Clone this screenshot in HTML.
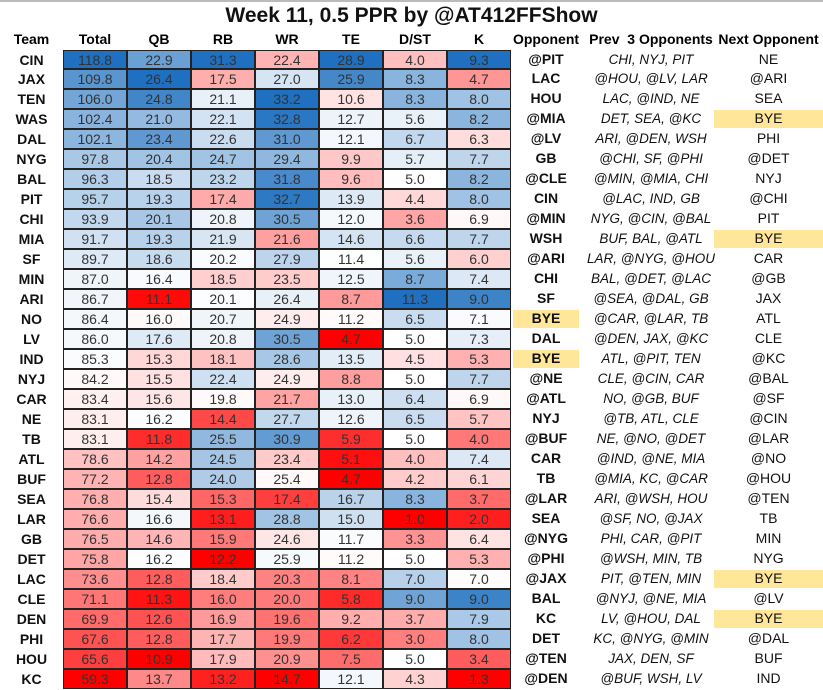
<!DOCTYPE html>
<html><head><meta charset="utf-8"><style>
body{margin:0;width:823px;height:689px;background:#fff;overflow:hidden;position:relative;font-family:"Liberation Sans",Arial,sans-serif;}
.t{position:absolute;text-align:center;white-space:nowrap;}
#topline{position:absolute;left:0;top:0;width:823px;height:2px;background:#bbb;}
</style></head><body>
<div id="topline"></div>
<div class="t" style="left:0;width:823px;top:4px;font-size:21px;font-weight:bold;color:#111;">Week 11, 0.5 PPR by @AT412FFShow</div>
<div id="root"></div>
<script>
const D=`CIN 118.8 22.9 31.3 22.4 28.9 4.0 9.3|@PIT|CHI, NYJ, PIT|NE
JAX 109.8 26.4 17.5 27.0 25.9 8.3 4.7|LAC|@HOU, @LV, LAR|@ARI
TEN 106.0 24.8 21.1 33.2 10.6 8.3 8.0|HOU|LAC, @IND, NE|SEA
WAS 102.4 21.0 22.1 32.8 12.7 5.6 8.2|@MIA|DET, SEA, @KC|BYE
DAL 102.1 23.4 22.6 31.0 12.1 6.7 6.3|@LV|ARI, @DEN, WSH|PHI
NYG 97.8 20.4 24.7 29.4 9.9 5.7 7.7|GB|@CHI, SF, @PHI|@DET
BAL 96.3 18.5 23.2 31.8 9.6 5.0 8.2|@CLE|@MIN, @MIA, CHI|NYJ
PIT 95.7 19.3 17.4 32.7 13.9 4.4 8.0|CIN|@LAC, IND, GB|@CHI
CHI 93.9 20.1 20.8 30.5 12.0 3.6 6.9|@MIN|NYG, @CIN, @BAL|PIT
MIA 91.7 19.3 21.9 21.6 14.6 6.6 7.7|WSH|BUF, BAL, @ATL|BYE
SF 89.7 18.6 20.2 27.9 11.4 5.6 6.0|@ARI|LAR, @NYG, @HOU|CAR
MIN 87.0 16.4 18.5 23.5 12.5 8.7 7.4|CHI|BAL, @DET, @LAC|@GB
ARI 86.7 11.1 20.1 26.4 8.7 11.3 9.0|SF|@SEA, @DAL, GB|JAX
NO 86.4 16.0 20.7 24.9 11.2 6.5 7.1|BYE|@CAR, @LAR, TB|ATL
LV 86.0 17.6 20.8 30.5 4.7 5.0 7.3|DAL|@DEN, JAX, @KC|CLE
IND 85.3 15.3 18.1 28.6 13.5 4.5 5.3|BYE|ATL, @PIT, TEN|@KC
NYJ 84.2 15.5 22.4 24.9 8.8 5.0 7.7|@NE|CLE, @CIN, CAR|@BAL
CAR 83.4 15.6 19.8 21.7 13.0 6.4 6.9|@ATL|NO, @GB, BUF|@SF
NE 83.1 16.2 14.4 27.7 12.6 6.5 5.7|NYJ|@TB, ATL, CLE|@CIN
TB 83.1 11.8 25.5 30.9 5.9 5.0 4.0|@BUF|NE, @NO, @DET|@LAR
ATL 78.6 14.2 24.5 23.4 5.1 4.0 7.4|CAR|@IND, @NE, MIA|@NO
BUF 77.2 12.8 24.0 25.4 4.7 4.2 6.1|TB|@MIA, KC, @CAR|@HOU
SEA 76.8 15.4 15.3 17.4 16.7 8.3 3.7|@LAR|ARI, @WSH, HOU|@TEN
LAR 76.6 16.6 13.1 28.8 15.0 1.0 2.0|SEA|@SF, NO, @JAX|TB
GB 76.5 14.6 15.9 24.6 11.7 3.3 6.4|@NYG|PHI, CAR, @PIT|MIN
DET 75.8 16.2 12.2 25.9 11.2 5.0 5.3|@PHI|@WSH, MIN, TB|NYG
LAC 73.6 12.8 18.4 20.3 8.1 7.0 7.0|@JAX|PIT, @TEN, MIN|BYE
CLE 71.1 11.3 16.0 20.0 5.8 9.0 9.0|BAL|@NYJ, @NE, MIA|@LV
DEN 69.9 12.6 16.9 19.6 9.2 3.7 7.9|KC|LV, @HOU, DAL|BYE
PHI 67.6 12.8 17.7 19.9 6.2 3.0 8.0|DET|KC, @NYG, @MIN|@DAL
HOU 65.6 10.9 17.9 20.9 7.5 5.0 3.4|@TEN|JAX, DEN, SF|BUF
KC 59.3 13.7 13.2 14.7 12.1 4.3 1.3|@DEN|@BUF, WSH, LV|IND`.split("\n");
const rows=D.map(l=>{const p=l.split("|");const a=p[0].split(" ");return {team:a[0],v:a.slice(1).map(Number),s:a.slice(1),opp:p[1],prev:p[2],next:p[3]};});
const R=document.getElementById("root");
let h="";
const top0=49.5,rh=19.97;
const cx=[63,127,191,255,319,383,447,511];
const heads=["Total","QB","RB","WR","TE","D/ST","K"];
h+=`<div class="t" style="left:0;width:63px;top:31px;font-size:14px;font-weight:bold">Team</div>`;
heads.forEach((t,i)=>h+=`<div class="t" style="left:${cx[i]}px;width:64px;top:31px;font-size:14px;font-weight:bold">${t}</div>`);
h+=`<div class="t" style="left:511px;width:70px;top:31px;font-size:14px;font-weight:bold">Opponent</div>`;
h+=`<div class="t" style="left:581px;width:140px;top:31px;font-size:14px;font-weight:bold">Prev&nbsp; 3 Opponents</div>`;
h+=`<div class="t" style="left:714px;width:109px;top:31px;font-size:14px;font-weight:bold">Next Opponent</div>`;
function col(c,val){
 const vs=rows.map(r=>r.v[c]).sort((a,b)=>a-b);
 const mn=vs[0],mx=vs[vs.length-1],md=(vs[15]+vs[16])/2;
 let r,g,b;
 if(val<=md){const f=(md-val)/(md-mn||1);r=255;g=255-255*f;b=255-255*f;}
 else{const f=(val-md)/(mx-md||1);r=255+(31-255)*f;g=255+(112-255)*f;b=255+(192-255)*f;}
 return `rgb(${r|0},${g|0},${b|0})`;
}
rows.forEach((r,i)=>{
 const y=top0+i*rh;
 h+=`<div class="t" style="left:0;width:63px;top:${y+2}px;font-size:14px;font-weight:bold;color:#111">${r.team}</div>`;
 for(let c=0;c<7;c++){
  h+=`<div class="t" style="left:${cx[c]}px;width:64px;top:${y}px;height:${rh}px;line-height:${rh}px;font-size:14px;color:#333;background:${col(c,r.v[c])};border:1px solid #222;box-sizing:border-box;margin-left:0">${r.s[c]}</div>`;
 }
 const ob=r.opp==="BYE"?"background:#FFE699;":"";
 h+=`<div class="t" style="left:513px;width:66px;top:${y+1}px;height:${rh-2}px;line-height:${rh-2}px;font-size:14px;font-weight:bold;color:#111;${ob}">${r.opp}</div>`;
 h+=`<div class="t" style="left:581px;width:140px;top:${y}px;height:${rh}px;line-height:${rh}px;font-size:13.5px;font-style:italic;color:#111">${r.prev}</div>`;
 const nb=r.next==="BYE"?"background:#FFE699;":"";
 h+=`<div class="t" style="left:714px;width:109px;top:${y+1}px;height:${rh-2}px;line-height:${rh-2}px;font-size:14px;color:#111;${nb}">${r.next}</div>`;
});
R.innerHTML=h;
</script>
</body></html>
